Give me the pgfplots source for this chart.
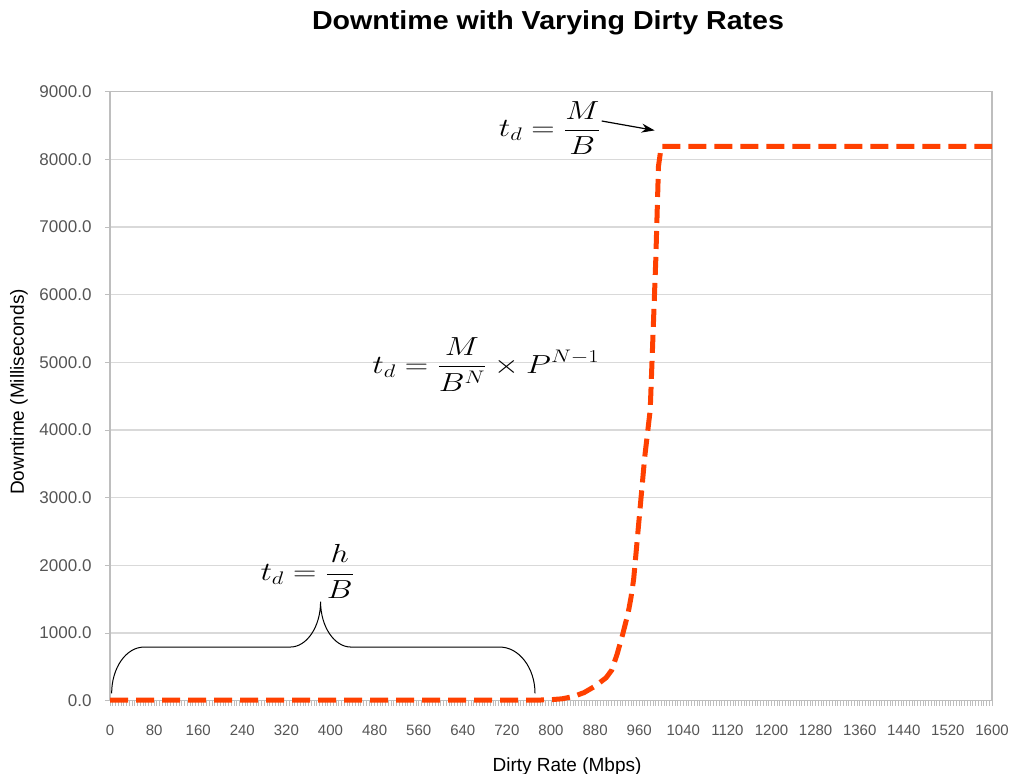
\documentclass[border=0pt]{standalone}
\usepackage{fontspec}
\setmainfont{Liberation Sans}
\usepackage{pgfplots}
\pgfplotsset{compat=1.18}
\usetikzlibrary{arrows.meta}
\definecolor{ser}{RGB}{255,64,0}
\definecolor{gridc}{RGB}{217,217,217}
\definecolor{axc}{RGB}{190,190,190}
\definecolor{tickc}{RGB}{85,85,85}
\pgfplotstableread{
x y
0 10
780 10
800 15
820 28
840 60
860 120
880 215
900 340
910 450
920 690
930 980
940 1300
945 1520
950 1800
955 2250
960 2700
965 3150
970 3600
975 3950
980 4300
985 5400
990 6500
995 7900
1000 8192
1600 8192
}\downtime
\begin{document}
\begin{tikzpicture}[x=1pt,y=1pt]
\path[use as bounding box] (0,0) rectangle (1011,-773);
\clip (0,0) rectangle (1011,-773);
\begin{axis}[
  at={(110pt,-700.7pt)}, anchor=south west,
  scale only axis, width=882pt, height=609pt,
  xmin=0, xmax=1600, ymin=0, ymax=9000,
  xtick={0,80,...,1600}, ytick={0,1000,...,9000},
  minor x tick num=15,
  xtick pos=left, ytick pos=left,
  tick align=outside,
  major tick length=5pt, minor tick length=5pt,
  ymajorgrids, grid style={gridc, line width=1.2pt},
  axis line style={axc, line width=1.2pt},
  tick style={axc, line width=0.8pt},
  scaled y ticks=false, scaled x ticks=false,
  yticklabel style={/pgf/number format/fixed, /pgf/number format/fixed zerofill, /pgf/number format/precision=1, /pgf/number format/1000 sep={}, /pgf/number format/assume math mode=true, /tikz/font=\fontsize{17}{17}\selectfont, /tikz/text=tickc, /tikz/xshift=-10pt},
  xticklabel style={/pgf/number format/fixed, /pgf/number format/1000 sep={}, /pgf/number format/assume math mode=true, /tikz/font=\fontsize{15}{15}\selectfont, /tikz/text=tickc, /tikz/yshift=-16pt},
  clip=false,
]
\addplot[ser, line width=5pt, dash pattern=on 18pt off 8pt, line join=round] table[x=x,y=y] {\downtime};
\draw[black, line width=1pt] (axis cs:3,109) .. controls (axis cs:3,483) and (axis cs:29,793) .. (axis cs:62,793)
  -- (axis cs:327,793) .. controls (axis cs:357,793) and (axis cs:382,1094) .. (axis cs:382,1463)
  .. controls (axis cs:382,1094) and (axis cs:407,793) .. (axis cs:437,793)
  -- (axis cs:707,793) .. controls (axis cs:742,793) and (axis cs:771,485) .. (axis cs:771,109);
\draw[-{Stealth[length=13pt,width=9pt]}, line width=1.2pt] (axis cs:892,8567) -- (axis cs:988,8428);
\node[font=\fontsize{24}{28}\selectfont] at (axis cs:798,8462) {\scalebox{1.3}[1.05]{$t_d = \displaystyle\frac{M}{B}$}};
\node[font=\fontsize{24}{28}\selectfont] at (axis cs:682,4970) {\scalebox{1.3}[1.05]{$t_d = \displaystyle\frac{M}{B^N}\times P^{N-1}$}};
\node[font=\fontsize{24}{28}\selectfont] at (axis cs:358,1910) {\scalebox{1.3}[1.05]{$t_d = \displaystyle\frac{h}{B}$}};
\end{axis}
\node[font=\bfseries\fontsize{26}{26}\selectfont] at (548,-23) {\scalebox{1.1}[1]{Downtime with Varying Dirty Rates}};
\node[rotate=90, font=\fontsize{19}{19}\selectfont] at (19,-392) {Downtime (Milliseconds)};
\node[font=\fontsize{19}{19}\selectfont, anchor=base] at (567,-771) {Dirty Rate (Mbps)};
\end{tikzpicture}
\end{document}
